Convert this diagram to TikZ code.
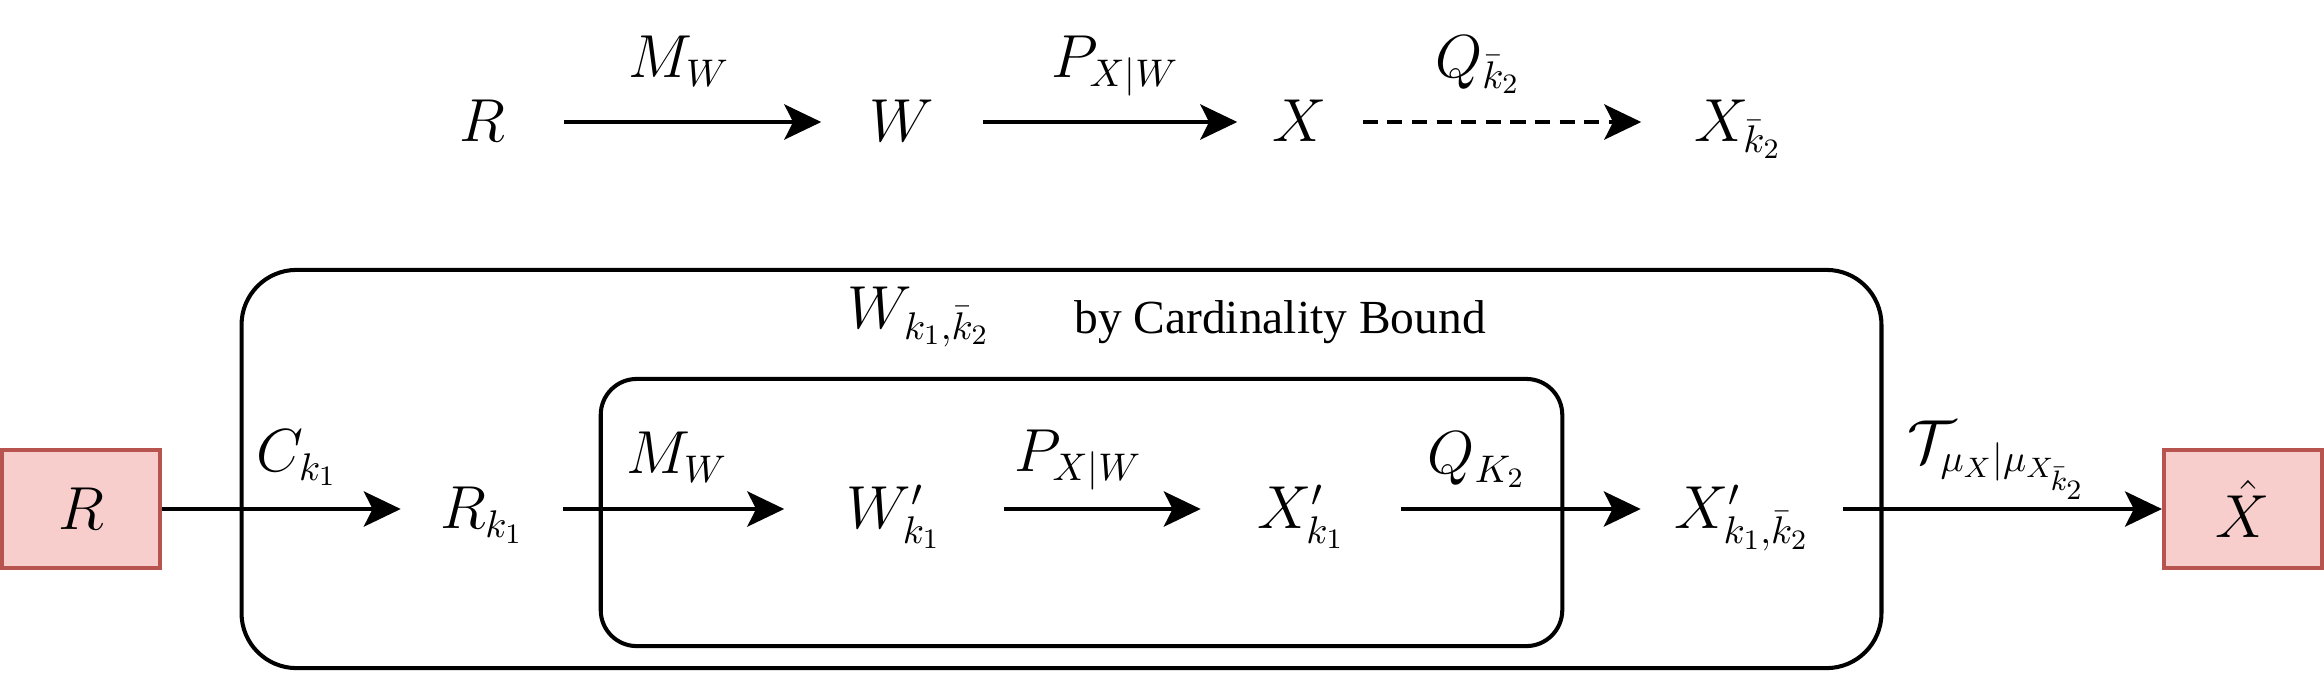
\documentclass[tikz,border=0pt]{standalone}
\usepackage{fontspec}
\newfontfamily\cardfont{Liberation Serif}
\usetikzlibrary{arrows.meta}
\definecolor{redfill}{HTML}{F8CECC}
\definecolor{redline}{HTML}{B85450}
\begin{document}
\begin{tikzpicture}[x=0.01cm,y=-0.01cm,
  mfont/.style={font=\fontsize{16}{19}\selectfont},
  tn/.style={mfont,inner sep=0pt,text height=10.9pt,text depth=0pt,anchor=center},
  lb/.style={mfont,inner sep=0pt,anchor=base},
  arr/.style={line width=1.15pt,-{Stealth[length=10.5pt,width=10pt,inset=2.5pt]}},
  dasharr/.style={arr,dash pattern=on 4.3pt off 2.7pt},
  frame/.style={draw,line width=1.15pt,inner sep=0pt},
  redbox/.style={draw=redline,fill=redfill,line width=1.15pt,minimum width=1.58cm,minimum height=1.18cm,inner sep=0pt,mfont}
]
\useasboundingbox (0,0) rectangle (2324,672);

% top row
\node[tn,minimum width=1.62cm] (tR) at (482,122) {$R$};
\node[tn,minimum width=1.60cm] (tW) at (902,122) {$W$};
\node[tn,minimum width=1.24cm] (tX) at (1300,122) {$X$};
\node[tn,minimum width=1.92cm] (tXk) at (1738,122) {$X_{\bar{k}_2}$};
\node[lb] (tlM) at (679,77) {$M_W$};
\node[lb] (tlP) at (1115,77) {$P_{X|W}$};
\node[lb] (tlQ) at (1478,77) {$Q_{\bar{k}_2}$};
\draw[arr] (tR) -- (tW);
\draw[arr] (tW) -- (tX);
\draw[dasharr] (tX) -- (tXk);

% frames
\node[frame,rounded corners=0.55cm,minimum width=16.39cm,minimum height=3.98cm] (outer) at (1061.5,469) {};
\node[frame,rounded corners=0.36cm,minimum width=9.61cm,minimum height=2.67cm] (inner) at (1081.5,512.5) {};
\node[lb] (lWk) at (919,328) {$W_{k_1,\bar{k}_2}$};
\node[anchor=base,inner sep=0pt,font=\cardfont\fontsize{13.5}{16}\selectfont] (lCard) at (1280,333) {by Cardinality Bound};

% bottom row
\node[redbox] (bR) at (81,509) {$R$};
\node[tn,minimum width=1.61cm] (bRk) at (482,509) {$R_{k_1}$};
\node[tn,minimum width=2.18cm] (bW) at (894,509) {$W'_{k_1}$};
\node[tn,minimum width=1.99cm] (bX) at (1301,509) {$X'_{k_1}$};
\node[tn,minimum width=2.01cm] (bXk) at (1742,509) {$X'_{k_1,\bar{k}_2}$};
\node[redbox] (bXh) at (2243,509) {$\hat{X}$};

\node[lb] (lC) at (297,471) {$C_{k_1}$};
\node[lb] (lM2) at (677,473) {$M_W$};
\node[lb] (lP2) at (1078,471) {$P_{X|W}$};
\node[lb] (lQ2) at (1477,473) {$Q_{K_2}$};
\node[lb] (lT) at (1998,462) {$\mathcal{T}_{\mu_X|\mu_{X_{\bar{k}_2}}}$};

\draw[arr] (bR) -- (bRk);
\draw[arr] (bRk) -- (bW);
\draw[arr] (bW) -- (bX);
\draw[arr] (bX) -- (bXk);
\draw[arr] (bXk) -- (bXh);
\end{tikzpicture}
\end{document}
